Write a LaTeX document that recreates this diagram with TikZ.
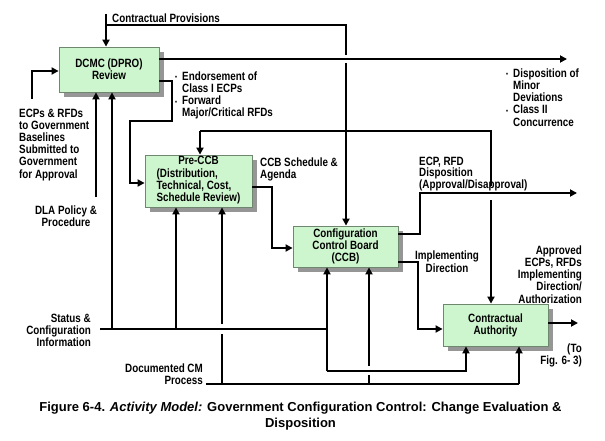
\documentclass[tikz,border=0pt]{standalone}
\usepackage{fontspec}
\usetikzlibrary{arrows.meta,shadows}
\newfontfamily\dfont[FakeStretch=0.82]{Liberation Sans}
\newfontfamily\capfont{Liberation Sans}
\definecolor{boxfill}{RGB}{206,246,206}
\definecolor{boxline}{RGB}{110,135,110}
\definecolor{shadowc}{RGB}{150,150,150}
\newcommand{\bul}{\makebox[7pt][l]{\raisebox{0.5pt}{\scriptsize\textbullet}}}
\newcommand{\ind}{\hspace*{7pt}}
\tikzset{
  lbl/.style={inner sep=0pt, font=\dfont\bfseries\fontsize{12}{12.2}\selectfont},
  box/.style={lbl, draw=boxline, line width=0.8pt, fill=boxfill, align=center,
     drop shadow={shadow xshift=5pt, shadow yshift=-5pt, fill=shadowc, opacity=1}},
  line/.style={line width=2pt, line join=miter},
  ar/.style={line, -{Triangle[length=7pt,width=7pt]}}
}
\begin{document}
\begin{tikzpicture}[x=1pt,y=-1pt]
\useasboundingbox[fill=white] (0,0) rectangle (605,441);
% boxes
\node[box, minimum width=100pt, minimum height=45pt] (dcmc) at (109,69.5) {DCMC (DPRO)\\Review};
\node[box, minimum width=107pt, minimum height=52pt] (pre) at (198.5,181)
  {\begin{tabular}{@{}l@{}}\multicolumn{1}{@{}c@{}}{Pre-CCB}\\(Distribution,\\Technical, Cost,\\Schedule Review)\end{tabular}};
\node[box, minimum width=105pt, minimum height=41pt] (ccb) at (345.5,246.5) {Configuration\\Control Board\\(CCB)};
\node[box, minimum width=105pt, minimum height=42pt] (ca) at (495.5,325) {Contractual\\Authority};
% free ends
\coordinate (cp) at (106,14);
\coordinate (ecp) at (32,99);
\coordinate (dla) at (96,197);
\coordinate (stat) at (100,329);
\coordinate (doc) at (206,384);
\coordinate (out1) at (567,59);
\coordinate (out2) at (577,193);
\coordinate (out3) at (578,323);
% contractual provisions
\draw[ar] (cp) -- (cp |- dcmc.north);
\draw[line] (106,25) -- (346,25) -- (346,55);
\draw[ar] (346,63) -- (ccb.north -| 346,0);
% DCMC outputs
\draw[ar] (dcmc.east |- 0,59) -- (out1);
\draw[ar] (dcmc.east |- 0,81) -- (172,81) -- (172,121) -- (130,121) -- (130,183) -- (pre.west |- 0,183);
% ECPs input
\draw[ar] (ecp) -- (32,71) -- (dcmc.west |- 0,71);
% DLA
\draw[ar] (dla) -- (dla |- dcmc.south);
% status line
\draw[line] (stat) -- (327,329);
\draw[ar] (112,329) -- (dcmc.south -| 112,0);
\draw[ar] (176,329) -- (pre.south -| 176,0);
\draw[ar] (327,371) -- (ccb.south -| 327,0);
\draw[ar] (327,371) -- (466,371) -- (ca.south -| 466,0);
% documented CM
\draw[line] (doc) -- (519,384);
\draw[ar] (519,384) -- (ca.south -| 519,0);
\draw[line] (222,384) -- (222,334);
\draw[ar] (222,324) -- (pre.south -| 222,0);
\draw[line] (369,384) -- (369,375);
\draw[ar] (369,366) -- (ccb.south -| 369,0);
% pre-ccb top feedback / CA top
\draw[line] (200,131) -- (491,131) -- (491,186);
\draw[ar] (200,131) -- (pre.north -| 200,0);
\draw[ar] (491,200) -- (ca.north -| 491,0);
% pre-ccb output
\draw[ar] (pre.east |- 0,187) -- (272,187) -- (272,248) -- (ccb.west |- 0,248);
% CCB outputs
\draw[ar] (ccb.east |- 0,234) -- (420,234) -- (420,193) -- (out2);
\draw[ar] (ccb.east |- 0,262) -- (418,262) -- (418,329) -- (ca.west |- 0,329);
% CA output
\draw[ar] (ca.east |- 0,323) -- (out3);
% labels
\node[lbl, anchor=base west] (lcp) at (112,23) {Contractual Provisions};
\node[lbl, anchor=north west, align=left] (lend) at (175,71.5)
  {\bul Endorsement of\\\ind Class I ECPs\\\bul Forward\\\ind Major/Critical RFDs};
\node[lbl, anchor=north west, align=left] (lecp) at (19,108.5)
  {ECPs \& RFDs\\to Government\\Baselines\\Submitted to\\Government\\for Approval};
\node[lbl, anchor=north, align=center] (ldla) at (66,205.5) {DLA Policy \&\\Procedure};
\node[lbl, anchor=north east, align=right] (lstat) at (91,313.5) {Status \&\\Configuration\\Information};
\node[lbl, anchor=north east, align=right] (ldoc) at (203,363.5) {Documented CM\\Process};
\node[lbl, anchor=north west, align=left] (lsch) at (260,157.5) {CCB Schedule \&\\Agenda};
\node[lbl, anchor=north west, align=left] (ldisp) at (506,68.5)
  {\bul Disposition of\\\ind Minor\\\ind Deviations\\\bul Class II\\\ind Concurrence};
\node[lbl, anchor=north west, align=left, font=\dfont\bfseries\fontsize{12}{11}\selectfont] (lecpd) at (419,156.5)
  {ECP, RFD\\Disposition\\(Approval/Disapproval)};
\node[lbl, anchor=north, align=center, font=\dfont\bfseries\fontsize{12}{13.5}\selectfont] (limp) at (447,250.5) {Implementing\\Direction};
\node[lbl, anchor=north east, align=right] (lapp) at (582,245.5)
  {Approved\\ECPs, RFDs\\Implementing\\Direction/\\Authorization};
\node[lbl, anchor=north east, align=right, font=\dfont\bfseries\fontsize{12}{10.5}\selectfont] (lto) at (582,343.5) {(To\\Fig. 6- 3)};
% caption
\node[align=center, inner sep=0pt, font=\capfont\bfseries\fontsize{13}{16}\selectfont] (cap) at (300.5,416)
  {Figure 6-4. \textit{Activity Model:} Government Configuration Control: Change Evaluation \&\\Disposition};
\end{tikzpicture}
\end{document}
